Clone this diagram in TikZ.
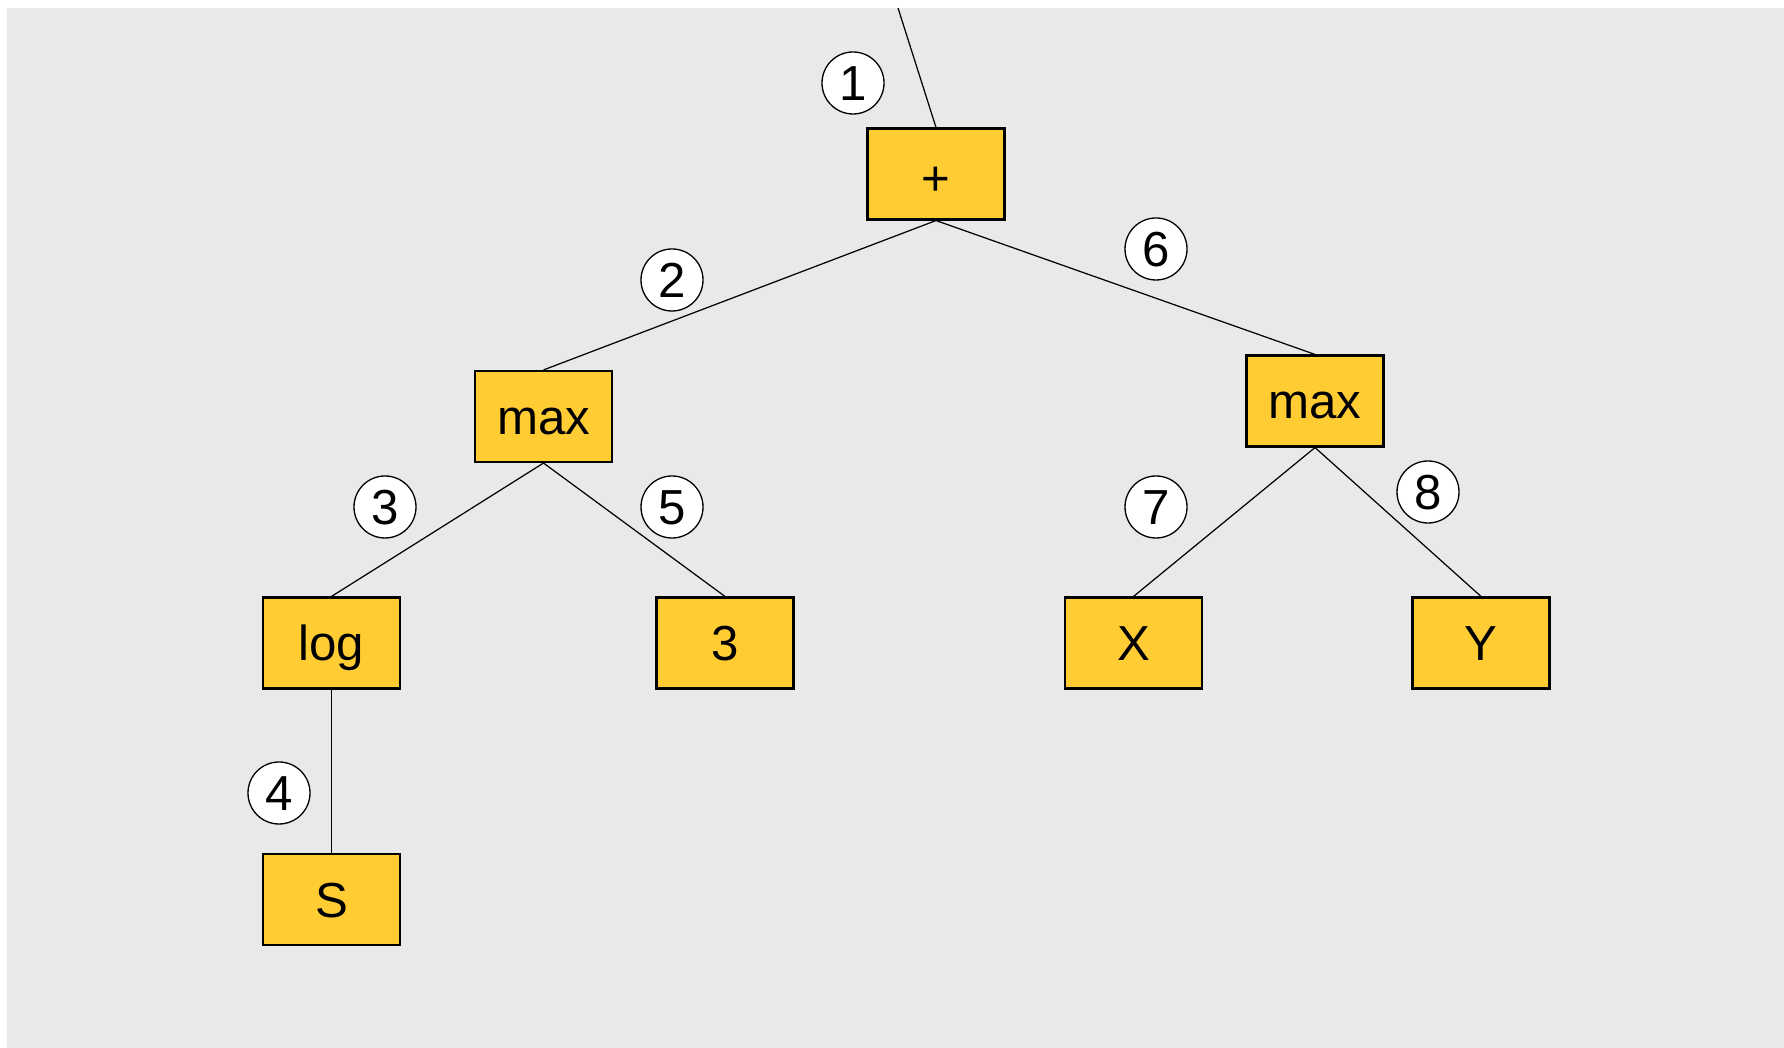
\documentclass[tikz,border=0pt]{standalone}
\usepackage{fontspec}
\setmainfont{Liberation Sans}
\usepackage{xcolor}
\usepackage{tikz}
\definecolor{cinza}{RGB}{233,233,233}
\definecolor{amarelo}{RGB}{255,204,51}
\tikzset{
  caixa/.style = {draw, line width = 1.2pt, fill = amarelo, minimum width = 2.74cm, minimum height = 1.82cm, inner sep = 0pt, text height = 20pt, text depth = 0pt},
  circulo/.style = {draw, circle, line width = 0.75pt, fill = white, minimum size = 1.24cm, inner sep = 0pt, text height = 20pt, text depth = 0pt},
  ramo/.style = {line width = 0.7pt}
}

\begin{document}
\begin{tikzpicture}[font = \fontsize{28}{30}\selectfont]
	\useasboundingbox (0,0) rectangle (35.68,20.96);
	\fill[cinza] (0.14,0) rectangle (35.68,20.8);
	% arvore
	\node[caixa, text height = 24pt] (soma) at (18.72,17.48) {+};
	\node[caixa] (maxE) at (10.87,12.63) {max};
	\node[caixa] (maxD) at (26.30,12.94) {max};
	\node[caixa] (log) at (6.63,8.10) {log};
	\node[caixa] (tres) at (14.50,8.10) {3};
	\node[caixa] (X) at (22.67,8.10) {X};
	\node[caixa] (Y) at (29.62,8.10) {Y};
	\node[caixa] (S) at (6.63,2.97) {S};
	\coordinate (topo) at (17.96,20.8);
	\draw[ramo] (topo) -- (soma.north);
	\draw[ramo] (soma.south) -- (maxE.north);
	\draw[ramo] (soma.south) -- (maxD.north);
	\draw[ramo] (maxE.south) -- (log.north);
	\draw[ramo] (maxE.south) -- (tres.north);
	\draw[ramo] (log.south) -- (S.north);
	\draw[ramo] (maxD.south) -- (X.north);
	\draw[ramo] (maxD.south) -- (Y.north);
	% numeros
	\node[circulo] (n1) at (17.06,19.30) {1};
	\node[circulo] (n2) at (13.44,15.36) {2};
	\node[circulo] (n3) at (7.70,10.82) {3};
	\node[circulo] (n4) at (5.58,5.10) {4};
	\node[circulo] (n5) at (13.44,10.82) {5};
	\node[circulo] (n6) at (23.12,15.98) {6};
	\node[circulo] (n7) at (23.12,10.82) {7};
	\node[circulo] (n8) at (28.56,11.12) {8};
\end{tikzpicture}
\end{document}
